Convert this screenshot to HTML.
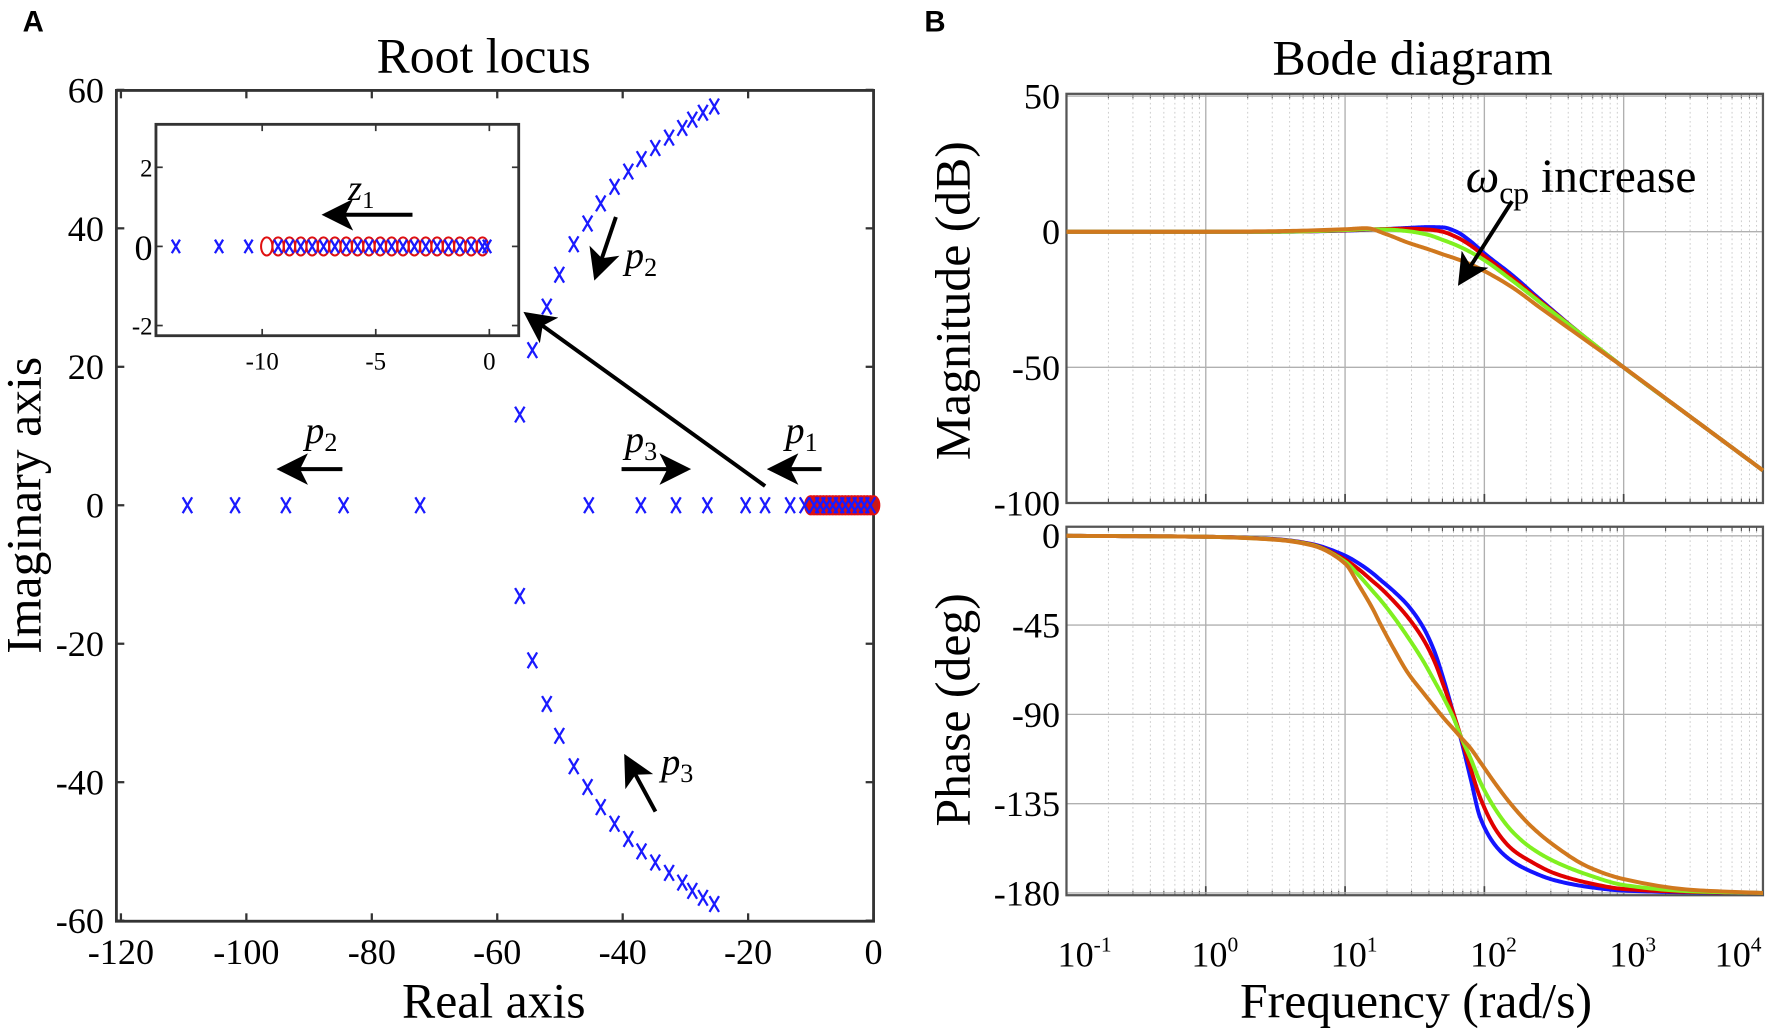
<!DOCTYPE html>
<html><head><meta charset="utf-8"><style>
html,body{margin:0;padding:0;background:#fff;}
svg{display:block;}
</style></head><body>
<svg id="fig" width="1772" height="1032" viewBox="0 0 1568 913" preserveAspectRatio="none" xmlns="http://www.w3.org/2000/svg" font-family="'Liberation Serif', 'Times New Roman', serif">
<defs>
<marker id="ah" markerWidth="8" markerHeight="8" refX="7" refY="4" orient="auto" markerUnits="strokeWidth"><path d="M0,0 L8,4 L0,8 L2,4 Z" fill="#000"/></marker>
</defs>
<text x="20" y="28" font-family="'Liberation Sans', sans-serif" font-weight="bold" font-size="26">A</text>
<text x="818" y="28" font-family="'Liberation Sans', sans-serif" font-weight="bold" font-size="26">B</text>
<text x="428" y="64" text-anchor="middle" font-size="44">Root locus</text>
<text x="1250" y="66" text-anchor="middle" font-size="44">Bode diagram</text>
<text x="437" y="900" text-anchor="middle" font-size="44">Real axis</text>
<text transform="translate(36,447) rotate(-90)" text-anchor="middle" font-size="44">Imaginary axis</text>
<text x="1253" y="900" text-anchor="middle" font-size="44">Frequency  (rad/s)</text>
<text transform="translate(858,266) rotate(-90)" text-anchor="middle" font-size="44">Magnitude (dB)</text>
<text transform="translate(858,628) rotate(-90)" text-anchor="middle" font-size="44">Phase (deg)</text>
<g id="rl"></g><g id="inset"></g><g id="mag"></g><g id="ph"></g><g id="ann"></g>
</svg>
<script>
// ---------- Root locus data ----------
const realAxisPoles = [-109.4,-101.8,-93.7,-84.5,-72.3,-45.4,-37.1,-31.5,-26.5,-20.4,-17.3,-13.3,-11.0,-9.5,-8.5,-7.5,-6.5,-5.5,-4.5,-3.5,-2.5,-1.5,-0.5];
const branchRe = [-56.4,-54.4,-52.1,-50.1,-47.8,-45.6,-43.5,-41.3,-39.1,-37.0,-34.8,-32.6,-30.5,-28.9,-27.2,-25.4];
const branchIm = [13.1,22.4,28.7,33.3,37.7,40.7,43.6,46.0,48.2,50.0,51.6,53.1,54.5,55.7,56.7,57.6];
const realAxisZeros = [-10,-9.5,-9,-8.5,-8,-7.5,-7,-6.5,-6,-5.5,-5,-4.5,-4,-3.5,-3,-2.5,-2,-1.5,-1,-0.5,0];
const insetPoles = [-13.8,-11.9,-10.6,-9.3,-8.8,-8.3,-7.8,-7.3,-6.8,-6.3,-5.8,-5.3,-4.8,-4.3,-3.8,-3.3,-2.8,-2.3,-1.8,-1.3,-0.8,-0.3,-0.1];
const insetZeros = [-9.8,-9.3,-8.8,-8.3,-7.8,-7.3,-6.8,-6.3,-5.8,-5.3,-4.8,-4.3,-3.8,-3.3,-2.8,-2.3,-1.8,-1.3,-0.8,-0.3];
const rlXTicks = [-120,-100,-80,-60,-40,-20,0];
const rlYTicks = [-60,-40,-20,0,20,40,60];
const inXTicks = [-10,-5,0];
const inYTicks = [-2,0,2];
// ---------- Bode data ----------
const magW = [-1,0,0.5,1,1.15,1.3,1.45,1.6,1.7,1.8,1.9,2,2.2,2.4,2.7,3,3.5,4];
const magBlue = [0,0,0,0.4,0.7,1,1.4,1.7,1.6,0,-3.5,-8,-16,-25,-38,-50,-69,-88];
const magRed = [0,0,0,0.5,0.8,1,1.1,0.8,0,-2,-5,-9,-17,-25.5,-38,-50,-69,-88];
const magGreen = [0,0,0,0.6,0.9,0.8,0.2,-1.2,-3,-5,-7.5,-10.5,-18,-26,-38,-50,-69,-88];
const magOrange = [0,0,0.2,0.9,1.3,-1,-4,-6.5,-8.3,-10,-12,-14.5,-20.5,-28,-39,-50,-69,-88];
const phW = [-1,0,0.5,0.75,1,1.1,1.2,1.25,1.35,1.45,1.56,1.64,1.71,1.78,1.83,1.9,1.97,2.09,2.2,2.33,2.5,2.75,3,3.5,4];
const phBlue = [0,-0.5,-1.7,-4,-10,-14,-19,-22,-28,-35,-46,-58,-73,-90,-102,-122,-142,-157,-164,-169,-173.5,-177,-178.8,-179.7,-180];
const phRed = [0,-0.5,-1.8,-4.2,-12,-17,-23,-26,-33,-41,-52,-63,-76,-90,-101,-117,-132,-149,-158,-164,-170,-175,-178,-179.5,-180];
const phGreen = [0,-0.5,-1.9,-4.4,-13,-20,-28,-32,-41,-51,-63,-73,-82,-92,-101,-112,-124,-139,-149,-157,-164,-171,-176,-179.2,-180];
const phOrange = [0,-0.5,-2,-4.6,-14,-25,-37,-44,-57,-69,-79,-86,-92,-97.5,-101.5,-107,-114,-126,-136,-146,-156,-167,-173,-178.5,-180];
const magTicks = [50,0,-50,-100];
const phTicks = [0,-45,-90,-135,-180];
const decades = [-1,0,1,2,3,4];

const NS='http://www.w3.org/2000/svg';
function mk(parent,tag,attrs,txt){const e=document.createElementNS(NS,tag);for(const k in attrs)e.setAttribute(k,attrs[k]);if(txt!==undefined)e.textContent=txt;parent.appendChild(e);return e;}
function lin(d0,d1,r0,r1){return v=>r0+(v-d0)/(d1-d0)*(r1-r0);}

// main root locus
const rl=document.getElementById('rl');
const X=lin(0,-20,773,662), Y=lin(0,20,447,324.5);
let b=mk(rl,'rect',{x:103,y:80,width:670,height:735,fill:'none',stroke:'#333','stroke-width':2.5});


rlXTicks.forEach(t=>{const x=X(t);
 mk(rl,'line',{x1:x,y1:815,x2:x,y2:808,stroke:'#333','stroke-width':2});
 mk(rl,'line',{x1:x,y1:80,x2:x,y2:87,stroke:'#333','stroke-width':2});
 const tl=mk(rl,'text',{x:x,y:853,'text-anchor':'middle','font-size':32},String(t));
 
 });
rlYTicks.forEach(t=>{const y=Y(t);
 mk(rl,'line',{x1:103,y1:y,x2:110,y2:y,stroke:'#333','stroke-width':2});
 mk(rl,'line',{x1:773,y1:y,x2:766,y2:y,stroke:'#333','stroke-width':2});
 const tl=mk(rl,'text',{x:92,y:y+11,'text-anchor':'end','font-size':32},String(t));
 
 });
function cross(g,x,y,s,name){const p=mk(g,'path',{d:`M${x-s*0.6},${y-s}L${x+s*0.6},${y+s}M${x+s*0.6},${y-s}L${x-s*0.6},${y+s}`,stroke:'#1a1aff','stroke-width':2,fill:'none'});
 
 }
function circ(g,x,y,rx,ry,name){const c=mk(g,'ellipse',{cx:x,cy:y,rx:rx,ry:ry,stroke:'#e01010','stroke-width':1.8,fill:'none'});
 
 }
realAxisZeros.forEach(v=>{const c=mk(rl,'ellipse',{cx:X(v),cy:Y(0),rx:5,ry:8,stroke:'#e01010','stroke-width':2,fill:'#c81818'});
 
 });
realAxisPoles.forEach(v=>cross(rl,X(v),Y(0),7,'pole-marker'));
branchRe.forEach((v,i)=>{cross(rl,X(v),Y(branchIm[i]),7,'pole-branch-upper');cross(rl,X(v),Y(-branchIm[i]),7,'pole-branch-lower');});

// inset
const ins=document.getElementById('inset');
const IX=lin(0,-5,433,332.5), IY=lin(0,2,218,148);
b=mk(ins,'rect',{x:138,y:110,width:321,height:187,fill:'#fff',stroke:'#333','stroke-width':2.5});


inXTicks.forEach(t=>{const x=IX(t);
 mk(ins,'line',{x1:x,y1:297,x2:x,y2:291,stroke:'#333','stroke-width':1.5});
 mk(ins,'line',{x1:x,y1:110,x2:x,y2:116,stroke:'#333','stroke-width':1.5});
 const tl=mk(ins,'text',{x:x,y:327,'text-anchor':'middle','font-size':22},String(t));
 
 });
inYTicks.forEach(t=>{const y=IY(t);
 mk(ins,'line',{x1:138,y1:y,x2:144,y2:y,stroke:'#333','stroke-width':1.5});
 mk(ins,'line',{x1:459,y1:y,x2:453,y2:y,stroke:'#333','stroke-width':1.5});
 const tl=mk(ins,'text',{x:135,y:y+(t===0?12:8),'text-anchor':'end','font-size':t===0?32:22},String(t));
 
 });
insetZeros.forEach(v=>circ(ins,IX(v),IY(0),5,8,'inset-zero-marker'));
insetPoles.forEach(v=>cross(ins,IX(v),IY(0),6,'inset-pole-marker'));

// bode
const L=943.7,R=1560, WX=lin(-1,4,L,R);
function monoPath(xs,ys,fx,fy){
 const n=xs.length,dx=[],m=[],t=new Array(n);
 for(let i=0;i<n-1;i++){dx.push(xs[i+1]-xs[i]);m.push((ys[i+1]-ys[i])/dx[i]);}
 t[0]=m[0];t[n-1]=m[n-2];
 for(let i=1;i<n-1;i++){if(m[i-1]*m[i]<=0)t[i]=0;else{const w1=2*dx[i]+dx[i-1],w2=dx[i]+2*dx[i-1];t[i]=(w1+w2)/(w1/m[i-1]+w2/m[i]);}}
 let d='';
 for(let i=0;i<n-1;i++){const h=dx[i];for(let k=0;k<=20;k++){if(i>0&&k===0)continue;const s=k/20,s2=s*s,s3=s2*s;
  const v=(2*s3-3*s2+1)*ys[i]+(s3-2*s2+s)*h*t[i]+(-2*s3+3*s2)*ys[i+1]+(s3-s2)*h*t[i+1];
  const x=fx(xs[i]+s*h),y=fy(v);d+=(d?'L':'M')+x.toFixed(2)+','+y.toFixed(2);}}
 return d;}
function bodeAxes(g,top,bot,ticks,fy,name,showX){
 const r=mk(g,'rect',{x:L,y:top,width:R-L,height:bot-top,fill:'#fff',stroke:'none'});
 
 
 for(let d=-1;d<4;d++){for(let k=2;k<10;k++){const x=WX(d+Math.log10(k));
  mk(g,'line',{x1:x,y1:top,x2:x,y2:bot,stroke:'#c8c8c8','stroke-width':0.8,'stroke-dasharray':'1.5,2.5'});
  mk(g,'line',{x1:x,y1:bot,x2:x,y2:bot-4,stroke:'#555','stroke-width':1});
  mk(g,'line',{x1:x,y1:top,x2:x,y2:top+4,stroke:'#555','stroke-width':1});}}
 decades.forEach((d,i)=>{const x=WX(d);mk(g,'line',{x1:x,y1:top,x2:x,y2:bot,stroke:'#b0b0b0','stroke-width':1.2});
  mk(g,'line',{x1:x,y1:bot,x2:x,y2:bot-8,stroke:'#444','stroke-width':1.5});
  if(showX){const off=i===0?16:(i===decades.length-1?-22:8);
   const t=mk(g,'text',{x:x+off,y:855,'text-anchor':'middle','font-size':32},'10');
   
   
   mk(t,'tspan',{dy:-13,'font-size':19},String(d));}});
 ticks.forEach(t=>{const y=fy(t);mk(g,'line',{x1:L,y1:y,x2:R,y2:y,stroke:'#b0b0b0','stroke-width':1.2});
  const tl=mk(g,'text',{x:938,y:y+11,'text-anchor':'end','font-size':32},String(t));
  
  });
 mk(g,'rect',{x:L,y:top,width:R-L,height:bot-top,fill:'none',stroke:'#555','stroke-width':2});}
const colors=['#1414ff','#e00000','#80f020','#d0781e'];
const mg=document.getElementById('mag'), MY=lin(0,-50,205,325);
bodeAxes(mg,83,445,magTicks,MY,'magnitude',false);
[magBlue,magRed,magGreen,magOrange].forEach((s,i)=>{const p=mk(mg,'path',{d:monoPath(magW,s,WX,MY),stroke:colors[i],'stroke-width':3.5,fill:'none','stroke-linejoin':'round'});
 
 });
const pg=document.getElementById('ph'), PY=lin(0,-45,474,553);
bodeAxes(pg,466,792,phTicks,PY,'phase',true);
[phBlue,phRed,phGreen,phOrange].forEach((s,i)=>{const p=mk(pg,'path',{d:monoPath(phW,s,WX,PY),stroke:colors[i],'stroke-width':3.5,fill:'none','stroke-linejoin':'round'});
 
 });

// annotations
const an=document.getElementById('ann');
function arrow(x1,y1,x2,y2,name){const l=mk(an,'line',{x1:x1,y1:y1,x2:x2,y2:y2,stroke:'#000','stroke-width':3.5,'marker-end':'url(#ah)'});
 
 }
arrow(677,430,466,278,'inset-pointer-arrow');
arrow(303,415,248,415,'p2-left-arrow');
arrow(550,415,608,415,'p3-right-arrow');
arrow(727,415,682,415,'p1-left-arrow');
arrow(545,192,527,245,'p2-branch-arrow');
arrow(580,718,554,670,'p3-branch-arrow');
arrow(365,190,288,190,'z1-arrow');
arrow(1338,178,1292,250,'wcp-arrow');
function plab(x,y,sub,size,name,letter){const t=mk(an,'text',{x:x,y:y,'font-size':size,'font-style':'italic'},letter||'p');
 
 
 mk(t,'tspan',{dy:7,'font-size':size*0.68,'font-style':'normal'},sub);}
plab(270,392,'2',34,'p2-label');
plab(553,400,'3',34,'p3-label');
plab(695,392,'1',34,'p1-label');
plab(553,237,'2',34,'p2-branch-label');
plab(585,685,'3',34,'p3-branch-label');
plab(308,177,'1',32,'z1-label','z');
const w=mk(an,'text',{x:1297,y:170,'font-size':42},'');


mk(w,'tspan',{'font-style':'italic'},'ω');
mk(w,'tspan',{dy:10,'font-size':28},'cp');
mk(w,'tspan',{dy:-10},' increase');
</script>
</body></html>
